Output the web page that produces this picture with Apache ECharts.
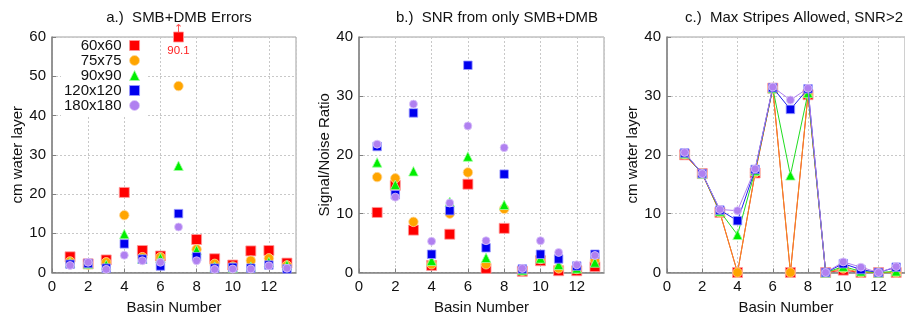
<!DOCTYPE html>
<html><head><meta charset="utf-8">
<script src="https://cdn.jsdelivr.net/npm/echarts@6/dist/echarts.min.js"></script>
<style>html,body{margin:0;padding:0;background:#fff}#c{width:905px;height:323px}</style>
</head><body><div id="c"></div>
<script>
// ---- data ----
const basins = [1,2,3,4,5,6,7,8,9,10,11,12,13];
const seriesNames = ['60x60','75x75','90x90','120x120','180x180'];
const panelTitles = ['a.)  SMB+DMB Errors','b.)  SNR from only SMB+DMB','c.)  Max Stripes Allowed, SNR>2'];
const yNames = ['cm water layer','Signal/Noise Ratio','cm water layer'];
const xName = 'Basin Number';
const xMax = 13.5, xStep = 2;
const yMaxA = 60, yMaxB = 40, yMaxC = 40, yStep = 10;

const errA_60  = [4.0,2.2,3.2,20.4,5.6,4.2,90.1,8.4,3.5,1.9,5.5,5.6,2.4];
const errA_75  = [2.8,2.0,2.6,14.6,3.9,3.9,47.5,5.9,2.2,1.5,3.0,3.6,1.8];
const errA_90  = [2.5,2.2,2.0,9.8,3.5,3.7,27.2,5.7,1.5,1.3,1.5,2.7,1.9];
const errA_120 = [2.1,2.3,1.1,7.3,3.4,1.65,15.0,4.0,1.1,1.3,1.1,1.9,0.9];
const errA_180 = [1.8,2.6,0.8,4.4,3.0,2.6,11.6,3.0,0.8,0.9,0.9,1.7,1.1];

const snr_60  = [10.2,14.8,7.2,1.2,6.5,15.0,0.7,7.5,0.2,2.0,0.3,0.3,1.0];
const snr_75  = [16.2,16.0,8.6,1.4,10.0,17.0,1.4,10.8,0.3,2.3,0.7,0.6,2.1];
const snr_90  = [18.7,14.9,17.2,2.0,12.0,19.7,2.5,11.5,0.4,2.4,1.3,0.7,1.7];
const snr_120 = [21.4,13.2,27.1,3.1,10.5,35.2,4.2,16.7,0.6,3.1,2.3,1.1,3.1];
const snr_180 = [21.8,12.8,28.6,5.3,11.8,24.9,5.4,21.2,0.7,5.4,3.4,1.3,2.9];

const max_60  = [20.0,16.8,10.2,0,16.9,31.3,0,30.2,0,0.4,0,0,0];
const max_75  = [20.1,16.8,10.2,0,17.0,31.3,0,30.3,0,0.7,0,0,0];
const max_90  = [20.2,16.8,10.4,6.4,17.3,31.3,16.5,30.5,0,1.0,0.2,0,0.2];
const max_120 = [20.3,16.8,10.6,8.8,17.5,31.4,27.7,31.2,0,1.5,0.5,0,0.9];
const max_180 = [20.4,16.8,10.7,10.5,17.6,31.5,29.3,31.3,0,1.8,0.9,0,1.0];

// ---- styles ----
const colors = ['#ff0000','#ffa500','#00ee00','#0000ee','#b080f0'];
const borders = ['#ff9a9a','#ffd89a','#a0ffa0','#9a9aff','#dcc8fa'];
const lineColors = ['#ff2020','#f09020','#20dd20','#2020ee','#b080f0'];
const symbols = ['rect','circle','triangle','rect','circle'];
const sizes = [10,9.5,9.5,8.5,8];
const legendSizes = [10,9,9,8,8];
const FONT = 'Liberation Sans, Arial, Helvetica, sans-serif';

const chart = echarts.init(document.getElementById('c'), null, {renderer:'canvas'});

const grids = [
  {left:52, top:37, width:244, height:235.5},
  {left:359, top:37, width:245, height:235.5},
  {left:667, top:37, width:244, height:235.5}
];
const yMaxes = [yMaxA, yMaxB, yMaxC];
const yGaps = [27, 24, 27];

const xAxes = grids.map((g,i)=>({
  type:'value', gridIndex:i, min:0, max:xMax, interval:xStep,
  name:xName, nameLocation:'middle', nameGap:28,
  nameTextStyle:{fontFamily:FONT, fontSize:15, color:'#111'},
  axisLine:{show:true, onZero:false, lineStyle:{color:'#808080', width:1.5}},
  axisTick:{show:true, inside:true, length:4, lineStyle:{color:'#808080'}},
  axisLabel:{fontFamily:FONT, fontSize:15, color:'#111', margin:7, showMaxLabel:false,
    formatter:v=> (v % xStep === 0 ? String(v) : '')},
  splitLine:{show:true, lineStyle:{color:'#c8c8c8', type:[2,2], width:1}}
}));
const yAxes = grids.map((g,i)=>({
  type:'value', gridIndex:i, min:0, max:yMaxes[i], interval:yStep,
  name:yNames[i], nameLocation:'middle', nameGap:yGaps[i], nameRotate:90,
  nameTextStyle:{fontFamily:FONT, fontSize:15, color:'#111'},
  axisLine:{show:true, onZero:false, lineStyle:{color:'#808080', width:1.5}},
  axisTick:{show:true, inside:true, length:4, lineStyle:{color:'#808080'}},
  axisLabel:{fontFamily:FONT, fontSize:15, color:'#111', margin:6},
  splitLine:{show:true, lineStyle:{color:'#c8c8c8', type:[2,2], width:1}}
}));

function pts(arr, cap){
  return basins.map((b,k)=>{
    const v = arr[k];
    if (cap !== undefined && v > cap) {
      return {value:[b, cap], raw:v,
        label:{show:true, position:'bottom', distance:2, formatter:String(v),
          fontFamily:FONT, fontSize:11.5, color:'#ff2020'}};
    }
    return [b, v];
  });
}

const panelA = [errA_60, errA_75, errA_90, errA_120, errA_180];
const panelB = [snr_60, snr_75, snr_90, snr_120, snr_180];
const panelC = [max_60, max_75, max_90, max_120, max_180];

const series = [];
panelA.forEach((arr,i)=>{
  series.push({type:'scatter', name:seriesNames[i], xAxisIndex:0, yAxisIndex:0,
    symbol:symbols[i], symbolSize:sizes[i], clip:false,
    itemStyle:{color:colors[i], borderColor:borders[i], borderWidth:0.8, opacity:1},
    data:pts(arr, yMaxA), z:2+i});
});
// arrow marker above the clipped point(s)
series.push({type:'scatter', name:'overflow', xAxisIndex:0, yAxisIndex:0, symbolSize:0, clip:false,
  silent:true, z:10,
  data: basins.filter((b,k)=>errA_60[k] > yMaxA).map(b=>[b, yMaxA]),
  label:{show:true, position:'top', distance:2, formatter:'↑', fontFamily:'DejaVu Sans', fontSize:11, color:'#ff2020'}});
panelB.forEach((arr,i)=>{
  series.push({type:'scatter', name:seriesNames[i], xAxisIndex:1, yAxisIndex:1,
    symbol:symbols[i], symbolSize:sizes[i], clip:false,
    itemStyle:{color:colors[i], borderColor:borders[i], borderWidth:0.8, opacity:1},
    data:pts(arr), z:2+i});
});
panelC.forEach((arr,i)=>{
  series.push({type:'line', name:seriesNames[i], xAxisIndex:2, yAxisIndex:2,
    symbol:symbols[i], symbolSize:sizes[i], showSymbol:true, showAllSymbol:true, clip:false,
    itemStyle:{color:colors[i], borderColor:borders[i], borderWidth:0.8, opacity:1},
    lineStyle:{color:lineColors[i], width:1},
    emphasis:{disabled:true},
    data:pts(arr), z:2+i});
});

const option = {
  animation:false,
  backgroundColor:'#fff',
  textStyle:{fontFamily:FONT},
  title: panelTitles.map((t,i)=>({
    text:t, left: [174, 492, 789][i], top:5, textAlign:'center',
    textStyle:{fontFamily:FONT, fontSize:15, fontWeight:'normal', color:'#111'}
  })),
  legend:{
    data:seriesNames.map((n,i)=>({name:n, icon:symbols[i],
      itemStyle:{color:colors[i], borderColor:borders[i], borderWidth:0.8}})),
    orient:'vertical', align:'right',
    left:61, top:38, padding:[0,6,3,3], itemGap:0,
    itemWidth:10, itemHeight:10,
    backgroundColor:'#fff',
    textStyle:{fontFamily:FONT, fontSize:15, color:'#111', lineHeight:15, padding:[0,3,0,0]},
    selectedMode:false
  },
  grid: grids.map(g=>Object.assign({show:true, borderColor:'#a0a0a0', borderWidth:1, backgroundColor:'transparent'}, g)),
  xAxis:xAxes,
  yAxis:yAxes,
  series:series
};
chart.setOption(option);
</script>
</body></html>
